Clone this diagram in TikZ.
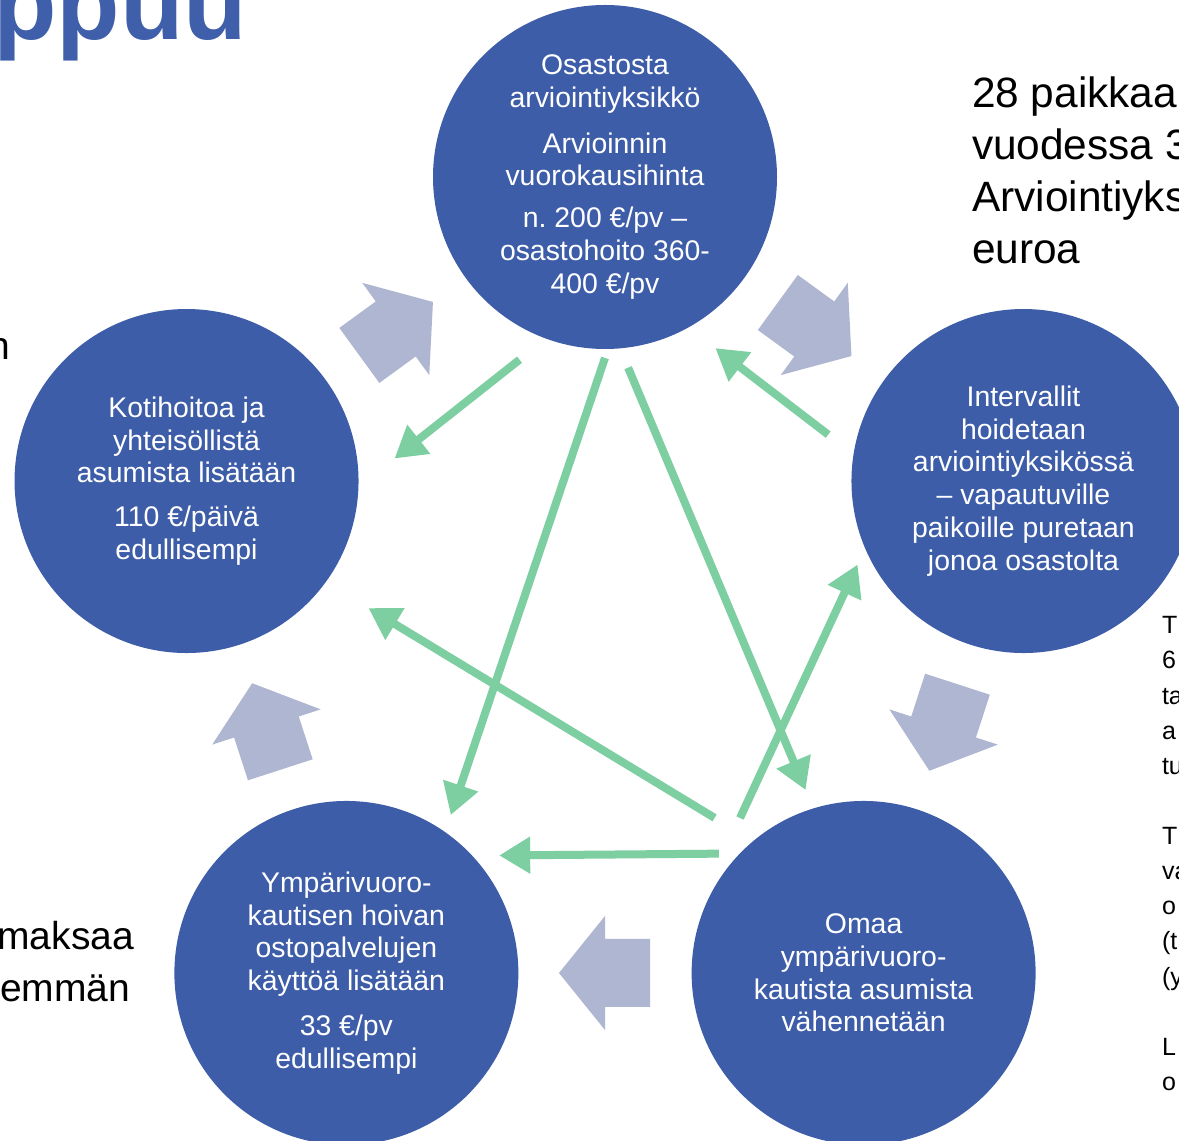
\documentclass[tikz,border=0pt]{standalone}
\usepackage{fontspec}
\setmainfont{Liberation Sans}
\usetikzlibrary{arrows.meta}
\definecolor{CycleBlue}{HTML}{3E5DA8}
\definecolor{TitleBlue}{HTML}{3F5FAA}
\definecolor{TurnGray}{HTML}{AEB6D1}
\definecolor{FlowGreen}{HTML}{7DCFA2}
\frenchspacing

\tikzset{
  stage/.style={circle, fill=CycleBlue, text=white, minimum size=344pt, inner sep=0pt, outer sep=0pt,
    align=center, font=\fontsize{28.4}{32.8}\selectfont},
  flow/.style={FlowGreen, line width=8pt, -{Triangle[length=31pt,width=35pt]}},
  turn/.style={fill=TurnGray},
  slidetext/.style={font=\fontsize{39}{52}\selectfont, inner sep=0pt, outer sep=0pt},
  bigtext/.style={font=\fontsize{42.4}{52}\selectfont, inner sep=0pt, outer sep=0pt},
  sidenote/.style={font=\fontsize{25}{35}\selectfont, inner sep=0pt, outer sep=0pt}
}

\begin{document}
\begin{tikzpicture}[x=1pt, y=1pt]
  \fill[white] (0,0) rectangle (1179,1141);
  \useasboundingbox (0,0) rectangle (1179,1141);

  % Title and cut-off slide texts
  \node[anchor=base west, inner sep=0pt, text=TitleBlue, font=\fontsize{104}{114}\selectfont\bfseries] (title) at (-7,1101) {ppuu};
  \foreach \i/\txt in {0/28 paikkaa, 1/vuodessa 3, 2/Arviointiyks, 3/euroa}
    \node[bigtext, anchor=base west] (info-\i) at (972, 1033-\i*52) {\txt};
  \node[slidetext, anchor=base east] (left-n) at (10, 781) {n};
  \node[slidetext, anchor=base east] (left-1) at (134, 191) {maksaa};
  \node[slidetext, anchor=base west] (left-2) at (0, 139) {emmän};
  \foreach \y/\txt in {634/T, 669/6, 705/ta, 740/a, 775/tu, 845/T, 880/va, 915/o, 950/{(t}, 986/{(y}, 1056/L, 1091/o}
    \node[sidenote, anchor=base west] (note-\y) at (1162, 1141-\y) {\txt};

  % Cycle
  \coordinate (hub) at (605,524);
  \foreach \a in {54,-18,-90,-162,126}
    \fill[turn, shift={(hub)}, shift={(\a:356)}, rotate=\a-90]
      (-45,-34) -- (0,-34) -- (0,-57) -- (46,0) -- (0,57) -- (0,34) -- (-45,34) -- cycle;

  \node[stage] (arvio) at ([shift={(90:440)}]hub)
    {Osastosta\\arviointiyksikkö\\[13pt]Arvioinnin\\vuorokausihinta\\[9pt]n. 200 €/pv –\\osastohoito 360-\\400 €/pv};
  \node[stage] (interv) at ([shift={(18:440)}]hub)
    {Intervallit\\hoidetaan\\arviointiyksikössä\\– vapautuville\\paikoille puretaan\\jonoa osastolta};
  \node[stage] (omaa) at ([shift={(-54:440)}]hub)
    {Omaa\\ympärivuoro-\\kautista asumista\\vähennetään};
  \node[stage] (osto) at ([shift={(-126:440)}]hub)
    {Ympärivuoro-\\kautisen hoivan\\ostopalvelujen\\käyttöä lisätään\\[12pt]33 €/pv\\edullisempi};
  \node[stage] (koti) at ([shift={(162:440)}]hub)
    {Kotihoitoa ja\\yhteisöllistä\\asumista lisätään\\[11pt]110 €/päivä\\edullisempi};

  % Green flows
  \coordinate (omaa-exit) at (740,323);
  \draw[flow, shorten <=34pt, shorten >=46pt] (arvio.250.3) -- (koti.358.2);
  \draw[flow, shorten <=9.5pt, shorten >=18pt] (arvio.271) -- (osto.55.1);
  \draw[flow, shorten <=21pt, shorten >=20pt] (arvio.275) -- (omaa.107.3);
  \draw[flow, shorten <=32pt, shorten >=34pt] (interv.171.1) -- (arvio.299.3);
  \draw[flow, shorten >=18pt] (omaa-exit) -- (interv.203.7);
  \draw[flow, shorten <=45pt, shorten >=50pt] (omaa.130.1) -- (koti.324.6);
  \draw[flow, shorten <=21pt, shorten >=27pt] (omaa.136.7) -- (osto.43.3);
\end{tikzpicture}
\end{document}
